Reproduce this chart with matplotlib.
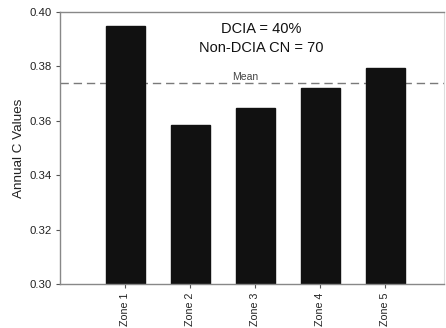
import matplotlib
matplotlib.use("Agg")
import matplotlib.pyplot as plt
import numpy as np

categories = ["Zone 1", "Zone 2", "Zone 3", "Zone 4", "Zone 5"]
values = [0.395, 0.3585, 0.3647, 0.3722, 0.3793]
mean_value = 0.3738
yticks = [0.30, 0.32, 0.34, 0.36, 0.38, 0.40]

plt.rcParams['font.family'] = ['Liberation Sans', 'DejaVu Sans']

W, H = 446, 328
fig = plt.figure(figsize=(W / 100, H / 100), dpi=100)
ax = fig.add_axes([60 / W, (H - 284) / H, 384 / W, 272 / H])

x = np.arange(len(categories))
ax.bar(x, values, width=0.6, color="#111111", edgecolor="#111111", zorder=2)
ax.axhline(mean_value, color="#7a7a7a", linestyle=(0, (6, 3.5)), linewidth=1.0, zorder=1)
ax.text(1.85, mean_value + 0.0005, "Mean", fontsize=7.5, color="#444444", ha="center", va="bottom")

ax.text(2.1, 0.3962, "DCIA = 40%\nNon-DCIA CN = 70", fontsize=10.5, ha="center", va="top",
        linespacing=1.4, color="#111111")

ax.set_xlim(-1, -1 + 384 / 65)
ax.set_ylim(0.30, 0.40)
ax.set_yticks(yticks)
ax.set_yticklabels([f"{v:.2f}" for v in yticks], fontsize=8.2, color="#222222")
ax.set_xticks(x)
ax.set_xticklabels(categories, rotation=90, fontsize=7.7, color="#222222")
ax.set_ylabel("Annual C Values", fontsize=9.7, color="#222222", labelpad=3)

for s in ["left", "bottom", "top"]:
    ax.spines[s].set_color("#888888")
    ax.spines[s].set_linewidth(1.0)
ax.spines["right"].set_color("#dddddd")
ax.spines["right"].set_linewidth(0.8)
ax.tick_params(axis="both", direction="out", length=3, width=0.8, color="#555555", pad=3)

fig.savefig("out.png", dpi=100)
